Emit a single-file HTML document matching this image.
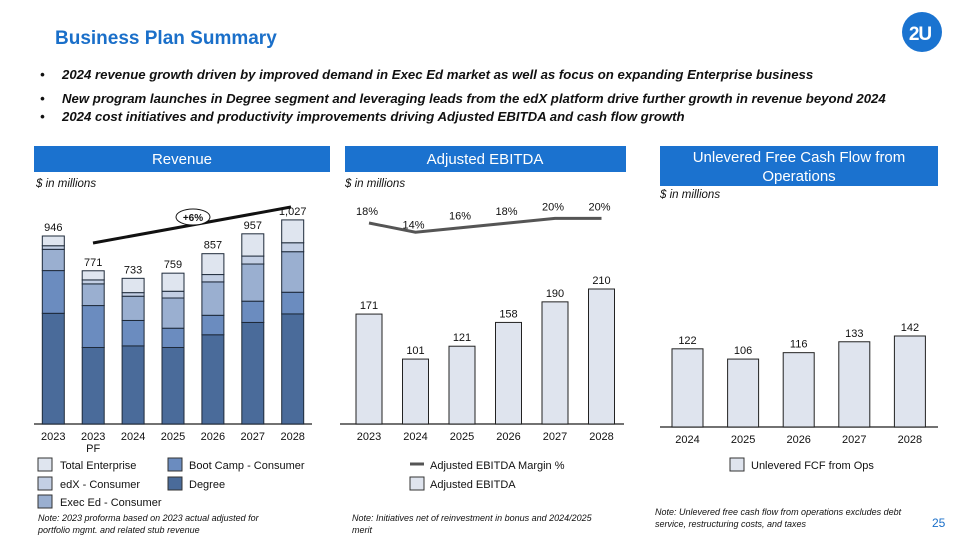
<!DOCTYPE html>
<html><head><meta charset="utf-8"><style>
body{margin:0;background:#fff;}
svg{display:block;font-family:"Liberation Sans",Arial,sans-serif;}
</style></head><body>
<svg id="s" width="960" height="540" viewBox="0 0 960 540" xmlns="http://www.w3.org/2000/svg">
<text x="55" y="44" font-size="19" font-weight="bold" fill="#1a6fc9">Business Plan Summary</text>
<g><circle cx="922" cy="32" r="20" fill="#1a73d0"/><text x="920" y="40" font-size="19" font-weight="bold" fill="#fff" text-anchor="middle" letter-spacing="-1">2U</text></g>
<g font-size="13.2" font-weight="bold" font-style="italic" fill="#111">
<text x="40" y="79">•<tspan x="62">2024 revenue growth driven by improved demand in Exec Ed market as well as focus on expanding Enterprise business</tspan></text>
<text x="40" y="103">•<tspan x="62">New program launches in Degree segment and leveraging leads from the edX platform drive further growth in revenue beyond 2024</tspan></text>
<text x="40" y="121">•<tspan x="62">2024 cost initiatives and productivity improvements driving Adjusted EBITDA and cash flow growth</tspan></text>
</g>
<rect x="34" y="146" width="296" height="26" fill="#1b72cf"/>
<text x="182" y="164" font-size="15" fill="#fff" text-anchor="middle">Revenue</text>
<rect x="345" y="146" width="281" height="26" fill="#1b72cf"/>
<text x="485" y="164" font-size="15" fill="#fff" text-anchor="middle">Adjusted EBITDA</text>
<rect x="660" y="146" width="278" height="40" fill="#1b72cf"/>
<text x="799" y="162" font-size="15" fill="#fff" text-anchor="middle">Unlevered Free Cash Flow from</text>
<text x="799" y="181" font-size="15" fill="#fff" text-anchor="middle">Operations</text>
<g font-size="11.5" font-style="italic" fill="#111">
<text x="36" y="187">$ in millions</text>
<text x="345" y="187">$ in millions</text>
<text x="660" y="198">$ in millions</text>
</g>
<g id="rev"></g><g id="ebit"></g><g id="fcf"></g>
<g font-size="11" fill="#111">
<rect x="38" y="458" width="14" height="13" fill="#dfe5ef" stroke="#333"/><text x="60" y="469">Total Enterprise</text>
<rect x="168" y="458" width="14" height="13" fill="#6b8cbf" stroke="#333"/><text x="189" y="469">Boot Camp - Consumer</text>
<rect x="38" y="477" width="14" height="13" fill="#c3cfe4" stroke="#333"/><text x="60" y="488">edX - Consumer</text>
<rect x="168" y="477" width="14" height="13" fill="#4a6b9a" stroke="#333"/><text x="189" y="488">Degree</text>
<rect x="38" y="495" width="14" height="13" fill="#9aafd0" stroke="#333"/><text x="60" y="506">Exec Ed - Consumer</text>
<line x1="410" y1="464" x2="424" y2="464" stroke="#555" stroke-width="3"/><text x="430" y="469">Adjusted EBITDA Margin %</text>
<rect x="410" y="477" width="14" height="13" fill="#dfe4ee" stroke="#333"/><text x="430" y="488">Adjusted EBITDA</text>
<rect x="730" y="458" width="14" height="13" fill="#dfe4ee" stroke="#333"/><text x="751" y="469">Unlevered FCF from Ops</text>
</g>
<g font-size="9" font-style="italic" fill="#111">
<text x="38" y="521">Note: 2023 proforma based on 2023 actual adjusted for<tspan x="38" y="533">portfolio mgmt. and related stub revenue</tspan></text>
<text x="352" y="521">Note: Initiatives net of reinvestment in bonus and 2024/2025<tspan x="352" y="533">merit</tspan></text>
<text x="655" y="515">Note: Unlevered free cash flow from operations excludes debt<tspan x="655" y="527">service, restructuring costs, and taxes</tspan></text>
</g>
<text x="932" y="527" font-size="12" fill="#1a6fc9">25</text>
</svg>
<script>
const NS="http://www.w3.org/2000/svg";
const revCats=["2023","2023","2024","2025","2026","2027","2028"];
const revTotals=[946,771,733,759,857,957,1027];
const degree=[557,385,393,385,449,511,554];
const bootCamp=[215,211,128,97,98,107,109];
const execEd=[107,109,122,152,168,187,204];
const edx=[18,20,18,34,37,40,45];
const enterprise=[49,46,72,91,105,112,115];
const ebitdaCats=["2023","2024","2025","2026","2027","2028"];
const ebitdaVals=[171,101,121,158,190,210];
const marginVals=[18,14,16,18,20,20];
const fcfCats=["2024","2025","2026","2027","2028"];
const fcfVals=[122,106,116,133,142];

function mk(p,tag,a,txt){const e=document.createElementNS(NS,tag);for(const k in a)e.setAttribute(k,a[k]);if(txt!==undefined)e.textContent=txt;p.appendChild(e);return e;}
const fmt=v=>v.toLocaleString('en-US');

// Revenue
const rev=document.getElementById('rev');
const rBase=424,rS=188/946,rx=i=>53.3+i*39.9;
mk(rev,'line',{x1:34,y1:rBase,x2:312,y2:rBase,stroke:'#444','stroke-width':1.5});
const segs=[[degree,'#4a6b9a','degree'],[bootCamp,'#6b8cbf','boot-camp'],[execEd,'#9aafd0','exec-ed'],[edx,'#c3cfe4','edx'],[enterprise,'#dfe5ef','enterprise']];
revCats.forEach((c,i)=>{
  let acc=0;
  segs.forEach(([arr,col,nm])=>{
    const y0=rBase-acc*rS;acc+=arr[i];const y1=rBase-acc*rS;
    const r=mk(rev,'rect',{x:rx(i)-11,y:y1,width:22,height:y0-y1,fill:col,stroke:'#1e2a3a','stroke-width':1});
    
    
  });
  const t=mk(rev,'text',{x:rx(i),y:rBase-revTotals[i]*rS-5,'font-size':11,'text-anchor':'middle',fill:'#111'},fmt(revTotals[i]));
  
  
  const l=mk(rev,'text',{x:rx(i),y:440,'font-size':11,'text-anchor':'middle',fill:'#111'},c);
  
  
});
mk(rev,'text',{x:rx(1),y:452,'font-size':11,'text-anchor':'middle',fill:'#111'},'PF');
const cg=mk(rev,'line',{x1:93,y1:243,x2:291,y2:207,stroke:'#111','stroke-width':3});


mk(rev,'ellipse',{cx:193,cy:217,rx:17,ry:8,fill:'#fff',stroke:'#111','stroke-width':1});
const ct=mk(rev,'text',{x:193,y:221,'font-size':10,'font-weight':'bold','text-anchor':'middle',fill:'#111'},'+6%');



// EBITDA
const eb=document.getElementById('ebit');
const eBase=424,eS=135/210,ex=i=>369+i*46.5;
mk(eb,'line',{x1:340,y1:eBase,x2:624,y2:eBase,stroke:'#444','stroke-width':1.5});
ebitdaCats.forEach((c,i)=>{
  const h=ebitdaVals[i]*eS;
  const r=mk(eb,'rect',{x:ex(i)-13,y:eBase-h,width:26,height:h,fill:'#dfe4ee',stroke:'#222','stroke-width':1});
  
  
  mk(eb,'text',{x:ex(i),y:eBase-h-5,'font-size':11,'text-anchor':'middle',fill:'#111'},ebitdaVals[i]);
  mk(eb,'text',{x:ex(i),y:440,'font-size':11,'text-anchor':'middle',fill:'#111'},c);
});
const my=m=>264.6-2.31*m;
const pts=marginVals.map((m,i)=>ex(i)+','+my(m)).join(' ');
const pl=mk(eb,'polyline',{points:pts,fill:'none',stroke:'#555','stroke-width':3});


marginVals.forEach((m,i)=>{
  const t=mk(eb,'text',{x:ex(i)-2,y:my(m)-8+(i==1?4:0),'font-size':11,'text-anchor':'middle',fill:'#111'},m+'%');
  
  
});

// FCF
const fc=document.getElementById('fcf');
const fBase=427,fS=91/142,fx=i=>687.5+i*55.6;
mk(fc,'line',{x1:660,y1:fBase,x2:938,y2:fBase,stroke:'#444','stroke-width':1.5});
fcfCats.forEach((c,i)=>{
  const h=fcfVals[i]*fS;
  const r=mk(fc,'rect',{x:fx(i)-15.5,y:fBase-h,width:31,height:h,fill:'#dfe4ee',stroke:'#222','stroke-width':1});
  
  
  mk(fc,'text',{x:fx(i),y:fBase-h-5,'font-size':11,'text-anchor':'middle',fill:'#111'},fcfVals[i]);
  mk(fc,'text',{x:fx(i),y:443,'font-size':11,'text-anchor':'middle',fill:'#111'},c);
});
</script>
</body></html>
